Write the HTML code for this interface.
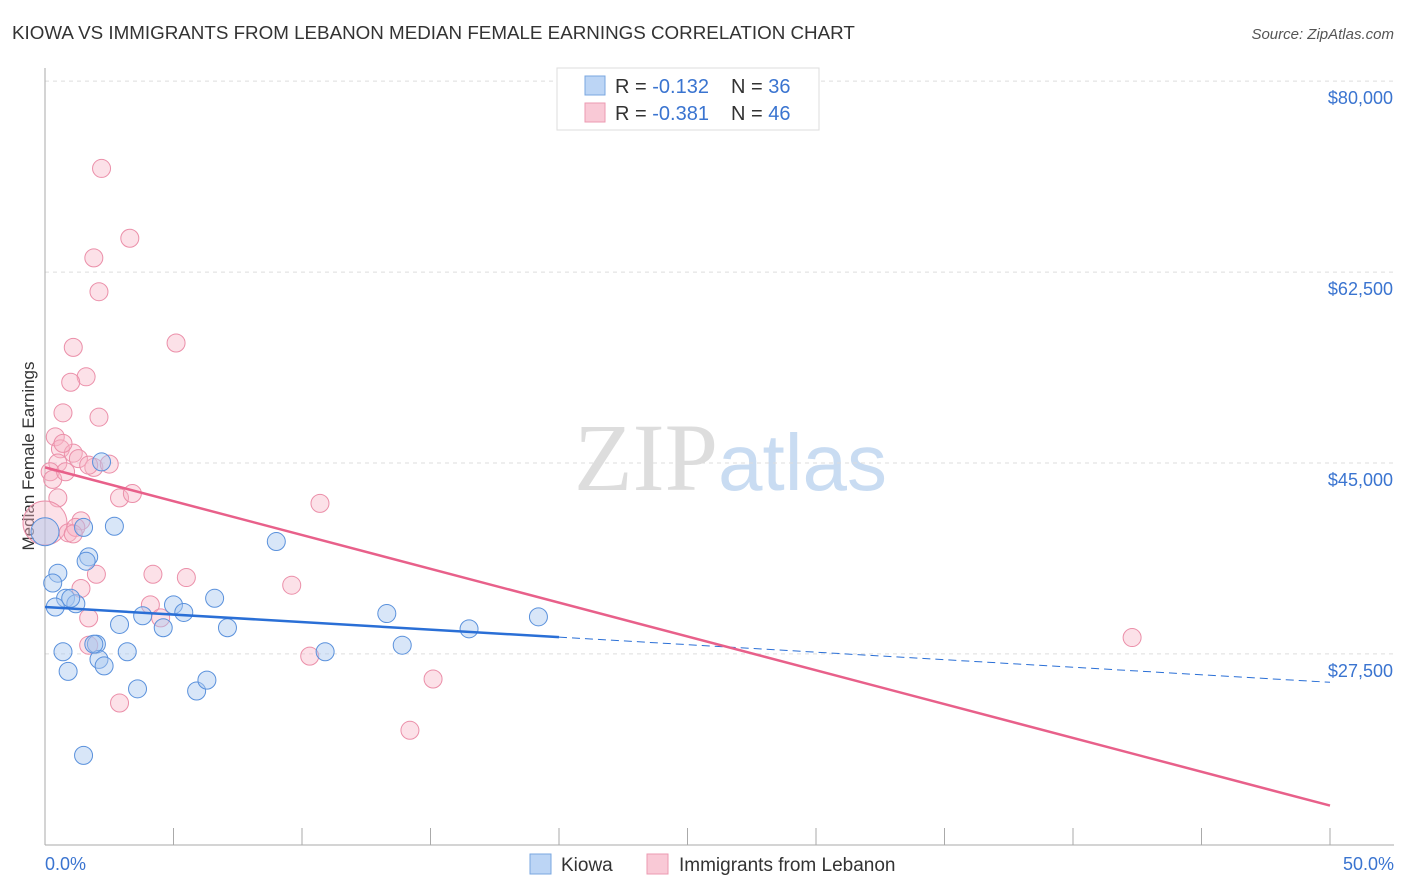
<!DOCTYPE html>
<html><head><meta charset="utf-8"><style>
body{margin:0;background:#fff;font-family:"Liberation Sans",sans-serif}
svg{display:block}
</style></head><body>
<svg id="c" width="1406" height="892">
<text x="12" y="39" font-size="18.8" fill="#333">KIOWA VS IMMIGRANTS FROM LEBANON MEDIAN FEMALE EARNINGS CORRELATION CHART</text>
<text x="1394" y="39" font-size="15" fill="#555" font-style="italic" text-anchor="end">Source: ZipAtlas.com</text>
<text x="718" y="490" font-size="96" fill="#ddd" text-anchor="end" font-family="Liberation Serif,serif">ZIP</text>
<text x="718" y="490" font-size="80" fill="#c9dcf2">atlas</text>
<g id="grid"></g>
<line x1="45" y1="68" x2="45" y2="845" stroke="#aaa"/>
<line x1="45" y1="845" x2="1394" y2="845" stroke="#aaa"/>
<g id="xticks"></g>
<text transform="translate(34,456) rotate(-90)" font-size="17" fill="#333" text-anchor="middle">Median Female Earnings</text>
<text x="45" y="870" font-size="18" fill="#3a74d0">0.0%</text>
<text x="1394" y="870" font-size="18" fill="#3a74d0" text-anchor="end">50.0%</text>
<g id="pts"></g>
<g id="lines"></g>
<g>
<rect x="557" y="68" width="262" height="62" fill="#fff" stroke="#ddd"/>
<rect x="585" y="76" width="20" height="19" fill="#bcd5f5" stroke="#7aa7e0"/>
<rect x="585" y="103" width="20" height="19" fill="#f9c9d6" stroke="#ec9ab1"/>
<text x="615" y="93" font-size="20" fill="#333">R = <tspan fill="#3a74d0">-0.132</tspan><tspan x="731">N = </tspan><tspan fill="#3a74d0">36</tspan></text>
<text x="615" y="120" font-size="20" fill="#333">R = <tspan fill="#3a74d0">-0.381</tspan><tspan x="731">N = </tspan><tspan fill="#3a74d0">46</tspan></text>
</g>
<g>
<rect x="530" y="854" width="21" height="20" fill="#bcd5f5" stroke="#7aa7e0"/>
<text x="561" y="871" font-size="19" fill="#333">Kiowa</text>
<rect x="647" y="854" width="21" height="20" fill="#f9c9d6" stroke="#ec9ab1"/>
<text x="679" y="871" font-size="19" fill="#333">Immigrants from Lebanon</text>
</g>
</svg>
<script>
const yTicks=[80000,62500,45000,27500];
const yTickLabels=["$80,000","$62,500","$45,000","$27,500"];
const kiowaX=[2.2,2.7,1.5,1.7,1.6,9.0,0.0,0.5,0.3,0.8,1.2,0.4,2.9,3.8,5.0,5.4,6.6,4.6,7.1,13.3,16.5,19.2,0.7,0.9,2.0,2.1,2.3,3.2,3.6,5.9,6.3,13.9,10.9,1.5,1.0,1.9];
const kiowaY=[45100,39200,39100,36400,36000,37800,38700,34900,34000,32600,32100,31800,30200,31000,32000,31300,32600,29900,29900,31200,29800,30900,27700,25900,28400,27000,26400,27700,24300,24100,25100,28300,27700,18200,32600,28400];
const lebX=[2.2,3.3,1.9,2.1,1.1,5.1,1.6,1.0,0.7,2.1,0.4,0.6,1.1,1.3,1.9,0.5,0.2,0.3,0.5,2.9,3.4,10.7,0.0,0.9,1.4,1.2,1.1,2.0,4.2,5.5,9.6,1.4,4.1,4.5,1.7,1.7,10.3,15.1,2.9,14.2,42.3,0.8,1.7,0.7,2.5];
const lebY=[72000,65600,63800,60700,55600,56000,52900,52400,49600,49200,47400,46300,45900,45400,44600,45000,44200,43500,41800,41800,42200,41300,39500,38600,39700,39100,38500,34800,34800,34500,33800,33500,32000,30800,30800,28300,27300,25200,23000,20500,29000,44200,44800,46800,44900];
const kiowaTrend=[31800,24900];
const lebTrend=[44600,13600];
const X=p=>45+p*25.7, Y=v=>463-(v-45000)*0.01091;
const NS="http://www.w3.org/2000/svg";
function mk(t,a,par){const e=document.createElementNS(NS,t);for(const k in a)e.setAttribute(k,a[k]);document.getElementById(par).appendChild(e);return e;}
yTicks.forEach((v,i)=>{
 const l=mk('line',{x1:45,x2:1394,y1:Y(v),y2:Y(v),stroke:'#ddd','stroke-dasharray':'4,4'},'grid');
 
 
 const t=mk('text',{x:1393,y:Y(v)+23,'font-size':18,fill:'#3a74d0','text-anchor':'end'},'grid');
 t.textContent=yTickLabels[i];
 
 
});
for(let i=0;i<=10;i++){const x=X(i*5);const l=mk('line',{x1:x,x2:x,y1:828,y2:845,stroke:'#aaa'},'xticks');
 
 }
lebX.forEach((p,i)=>{const r=(p===0&&lebY[i]===39500)?22:9;
 const c=mk('circle',{cx:X(p),cy:Y(lebY[i]),r:r,fill:'#f7b3c6','fill-opacity':0.4,stroke:'#eb8fa9','stroke-width':1},'pts');
 
 });
kiowaX.forEach((p,i)=>{const r=(p===0)?14:9;
 const c=mk('circle',{cx:X(p),cy:Y(kiowaY[i]),r:r,fill:'#a9c8f0','fill-opacity':0.45,stroke:'#5a91dc','stroke-width':1},'pts');
 
 });
const ky=p=>kiowaTrend[0]+(kiowaTrend[1]-kiowaTrend[0])*p/50;
let l1=mk('line',{x1:X(0),y1:Y(ky(0)),x2:X(20),y2:Y(ky(20)),stroke:'#2a6fd6','stroke-width':2.5},'lines');


let l2=mk('line',{x1:X(20),y1:Y(ky(20)),x2:X(50),y2:Y(ky(50)),stroke:'#2a6fd6','stroke-width':1,'stroke-dasharray':'8,5'},'lines');


let l3=mk('line',{x1:X(0),y1:Y(lebTrend[0]),x2:X(50),y2:Y(lebTrend[1]),stroke:'#e8608a','stroke-width':2.5},'lines');


</script>
</body></html>
